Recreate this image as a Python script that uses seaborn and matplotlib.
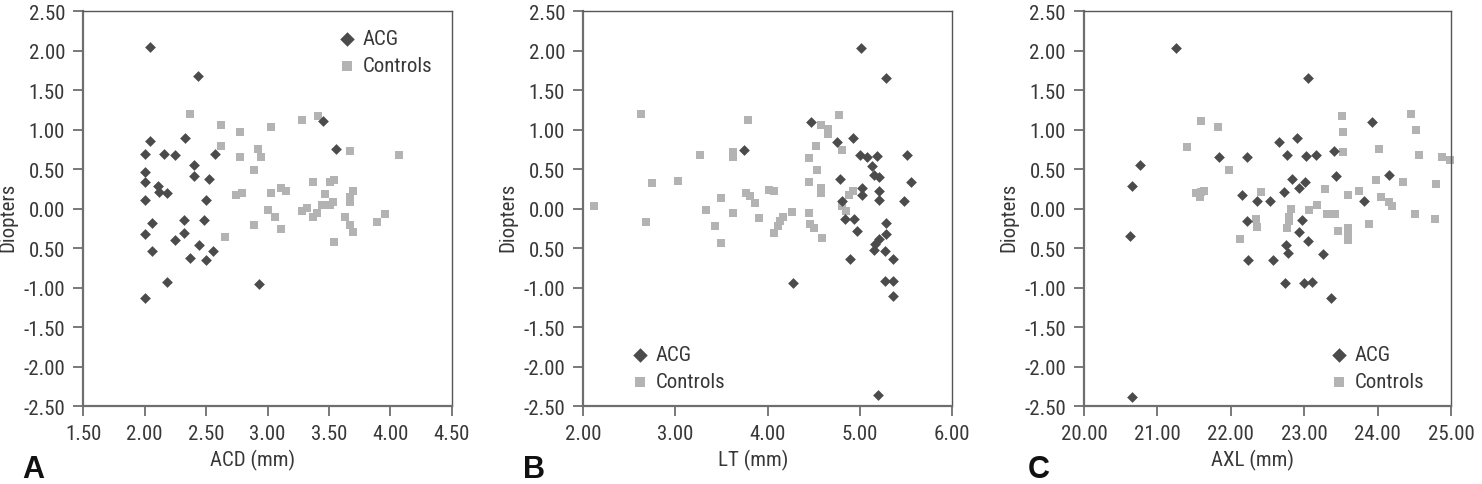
import matplotlib
matplotlib.use("Agg")
import matplotlib.pyplot as plt
import seaborn as sns
import pandas as pd
from matplotlib.ticker import FixedLocator, FixedFormatter

# ---------------- data ----------------
groups = ["ACG", "Controls"]

acd_acg_x = [2.04, 2.43, 2.04, 2.00, 2.16, 2.25, 2.33, 2.40, 2.40, 2.57, 2.52, 2.00, 2.00, 2.11, 2.12, 2.18, 2.00,
             2.50, 2.06, 2.32, 2.48, 2.32, 2.00, 2.25, 2.44, 2.06, 2.37, 2.56, 2.50, 2.18, 2.00, 2.93, 3.45, 3.56]
acd_acg_y = [2.05, 1.68, 0.86, 0.69, 0.69, 0.68, 0.90, 0.55, 0.42, 0.69, 0.38, 0.46, 0.34, 0.29, 0.21, 0.20, 0.11,
             0.11, -0.18, -0.14, -0.14, -0.30, -0.32, -0.40, -0.46, -0.54, -0.62, -0.53, -0.65, -0.93, -1.13, -0.95,
             1.11, 0.76]
acd_ctl_x = [2.37, 2.62, 2.62, 2.65, 2.78, 2.78, 2.74, 2.79, 2.89, 2.92, 2.95, 2.89, 3.00, 3.03, 3.03, 3.06, 3.11,
             3.15, 3.11, 3.28, 3.41, 3.28, 3.32, 3.37, 3.37, 3.40, 3.44, 3.47, 3.51, 3.54, 3.51, 3.53, 3.54, 3.63,
             3.67, 3.67, 3.67, 3.70, 3.67, 3.70, 3.89, 3.96, 4.07]
acd_ctl_y = [1.20, 1.06, 0.79, -0.36, 0.97, 0.65, 0.17, 0.20, 0.49, 0.755, 0.65, -0.20, -0.02, 1.04, 0.20, -0.11,
             0.26, 0.23, -0.25, 1.12, 1.18, -0.03, 0.01, 0.34, -0.10, -0.05, 0.05, 0.19, 0.34, 0.37, 0.05, 0.09,
             -0.42, -0.10, 0.73, 0.15, 0.09, 0.22, -0.21, -0.29, -0.17, -0.06, 0.68]

lt_acg_x = [5.015, 5.29, 4.47, 4.93, 4.75, 3.75, 5.00, 5.08, 5.19, 5.51, 5.14, 5.16, 5.21, 4.79, 5.555, 5.025, 5.025,
            5.21, 5.21, 5.485, 4.81, 4.84, 4.94, 4.97, 5.29, 5.29, 5.21, 5.17, 5.16, 5.28, 5.36, 4.90, 4.28, 5.28,
            5.36, 5.36, 5.20]
lt_acg_y = [2.03, 1.66, 1.10, 0.895, 0.84, 0.74, 0.675, 0.65, 0.67, 0.675, 0.54, 0.43, 0.40, 0.375, 0.345, 0.26,
            0.17, 0.22, 0.11, 0.10, 0.10, -0.13, -0.13, -0.28, -0.18, -0.32, -0.38, -0.45, -0.52, -0.54, -0.64,
            -0.63, -0.94, -0.92, -0.92, -1.11, -2.36]
lt_ctl_x = [2.63, 3.79, 4.78, 4.58, 4.66, 4.66, 4.53, 4.81, 3.62, 3.62, 3.27, 4.45, 4.54, 4.45, 4.58, 4.58, 2.75,
            3.03, 3.77, 3.81, 3.86, 4.02, 4.07, 3.50, 4.89, 4.93, 4.81, 4.85, 2.12, 3.33, 3.62, 4.27, 4.45, 4.17,
            4.14, 4.11, 4.07, 3.91, 2.68, 3.43, 4.46, 4.50, 4.59, 3.50]
lt_ctl_y = [1.20, 1.13, 1.19, 1.06, 1.01, 0.945, 0.79, 0.75, 0.725, 0.655, 0.675, 0.64, 0.485, 0.345, 0.26, 0.20,
            0.325, 0.35, 0.20, 0.16, 0.07, 0.24, 0.22, 0.14, 0.18, 0.22, 0.03, -0.025, 0.03, -0.02, -0.05, -0.04,
            -0.05, -0.105, -0.15, -0.22, -0.30, -0.12, -0.17, -0.22, -0.19, -0.245, -0.37, -0.43]

axl_acg_x = [21.26, 23.05, 23.93, 22.90, 22.66, 23.40, 22.77, 23.02, 23.16, 21.84, 22.22, 20.76, 20.65, 23.44, 24.16,
             22.84, 23.01, 22.93, 22.73, 22.15, 22.36, 22.53, 23.81, 22.22, 22.97, 22.93, 20.62, 22.75, 22.78, 23.05,
             23.25, 22.24, 22.58, 22.74, 23.00, 23.10, 23.37, 20.66]
axl_acg_y = [2.03, 1.65, 1.10, 0.90, 0.84, 0.73, 0.675, 0.67, 0.68, 0.65, 0.65, 0.55, 0.29, 0.41, 0.43, 0.38, 0.345,
             0.26, 0.21, 0.17, 0.10, 0.10, 0.10, -0.15, -0.14, -0.295, -0.34, -0.46, -0.56, -0.41, -0.57, -0.65,
             -0.65, -0.94, -0.94, -0.93, -1.13, -2.38]
axl_ctl_x = [21.60, 21.82, 21.41, 21.97, 21.53, 21.59, 21.64, 21.58, 22.41, 22.35, 22.36, 22.13, 22.82, 22.79, 22.79,
             22.76, 23.07, 23.17, 23.28, 23.31, 23.42, 23.46, 23.59, 23.59, 23.59, 23.52, 23.53, 23.53, 23.59, 23.74,
             23.88, 24.02, 23.98, 24.04, 24.15, 24.19, 24.34, 24.45, 24.52, 24.56, 24.51, 24.79, 24.78, 24.88, 24.98]
axl_ctl_y = [1.11, 1.04, 0.78, 0.485, 0.20, 0.21, 0.22, 0.15, 0.21, -0.13, -0.23, -0.38, 0.00, -0.10, -0.16, -0.24,
             -0.02, 0.05, 0.25, -0.07, -0.06, -0.275, -0.24, -0.33, -0.40, 1.17, 0.975, 0.72, 0.18, 0.22, -0.19,
             0.755, 0.36, 0.15, 0.09, 0.03, 0.345, 1.20, 1.00, 0.68, -0.07, 0.32, -0.13, 0.66, 0.62]

y_ticks = [2.5, 2.0, 1.5, 1.0, 0.5, 0.0, -0.5, -1.0, -1.5, -2.0, -2.5]
y_tick_labels = ["2.50", "2.00", "1.50", "1.00", "0.50", "0.00", "0.50", "-1.00", "-1.50", "-2.00", "-2.50"]

acd_ticks = [1.5, 2.0, 2.5, 3.0, 3.5, 4.0, 4.5]
acd_tick_labels = ["1.50", "2.00", "2.50", "3.00", "3.50", "4.00", "4.50"]
lt_ticks = [2.0, 3.0, 4.0, 5.0, 6.0]
lt_tick_labels = ["2.00", "3.00", "4.00", "5.00", "6.00"]
axl_ticks = [20.0, 21.0, 22.0, 23.0, 24.0, 25.0]
axl_tick_labels = ["20.00", "21.00", "22.00", "23.00", "24.00", "25.00"]

x_labels = ["ACD (mm)", "LT (mm)", "AXL (mm)"]
y_label = "Diopters"
panel_letters = ["A", "B", "C"]

# ---------------- style ----------------
sns.set_theme(style="white")
plt.rcParams["font.family"] = ["Roboto Condensed", "DejaVu Sans"]

TXT = "#383838"
SPINE = "#6e6e6e"
palette = {"ACG": "#4b4b4b", "Controls": "#b3b3b3"}
markers = {"ACG": "D", "Controls": "s"}
sizes_map = {"ACG": 30, "Controls": 32}

fig = plt.figure(figsize=(14.82, 4.85), dpi=100)

W = 1482.0
H = 485.0
bottom = 1 - 407.3 / H
height = 395.0 / H
lefts = [83.3, 583.3, 1084.0]
widths = [368.4, 368.4, 367.0]

panels = [
    (acd_acg_x, acd_acg_y, acd_ctl_x, acd_ctl_y, (1.5, 4.5), acd_ticks, acd_tick_labels),
    (lt_acg_x, lt_acg_y, lt_ctl_x, lt_ctl_y, (2.0, 6.0), lt_ticks, lt_tick_labels),
    (axl_acg_x, axl_acg_y, axl_ctl_x, axl_ctl_y, (20.0, 25.0), axl_ticks, axl_tick_labels),
]
legend_anchor = [(0.688, 0.955), (0.126, 0.155), (0.666, 0.155)]
letter_x = [22, 523, 1028]

for i, (ax_, ay_, cx_, cy_, xlim, xt, xtl) in enumerate(panels):
    ax = fig.add_axes([lefts[i] / W, bottom, widths[i] / W, height])
    df = pd.DataFrame({
        "x": list(ax_) + list(cx_),
        "y": list(ay_) + list(cy_),
        "group": ["ACG"] * len(ax_) + ["Controls"] * len(cx_),
    })
    for g in groups:
        sub = df[df["group"] == g]
        sns.scatterplot(data=sub, x="x", y="y", ax=ax, color=palette[g], marker=markers[g],
                        s=sizes_map[g], linewidth=0, label=g, clip_on=False, zorder=3 if g == "ACG" else 2)
    ax.set_xlim(*xlim)
    ax.set_ylim(-2.5, 2.5)
    ax.xaxis.set_major_locator(FixedLocator(xt))
    ax.xaxis.set_major_formatter(FixedFormatter(xtl))
    ax.yaxis.set_major_locator(FixedLocator(y_ticks))
    ax.yaxis.set_major_formatter(FixedFormatter(y_tick_labels))
    ax.tick_params(axis="both", which="major", direction="out", length=7, width=1.3,
                   color=SPINE, labelsize=15, labelcolor=TXT, pad=6,
                   bottom=True, left=True, top=False, right=False)
    for s in ["left", "bottom"]:
        ax.spines[s].set_color(SPINE)
        ax.spines[s].set_linewidth(1.6)
    for s in ["top", "right"]:
        ax.spines[s].set_color("#555555")
        ax.spines[s].set_linewidth(1.0)
    ax.set_xlabel(x_labels[i], fontsize=15, color=TXT)
    ax.set_ylabel(y_label, fontsize=15, color=TXT)
    ax.xaxis.set_label_coords(0.46, -0.108)
    ax.yaxis.set_label_coords(-0.178, 0.48)
    leg = ax.legend(loc="upper left", bbox_to_anchor=legend_anchor[i], frameon=False, fontsize=15,
                    handlelength=1.0, handletextpad=0.25, borderpad=0, borderaxespad=0,
                    labelspacing=0.4, markerscale=1.35)
    for t in leg.get_texts():
        t.set_color(TXT)
    fig.text(letter_x[i] / W, 1 - 478.0 / H, panel_letters[i], fontsize=22, fontweight="bold",
             family=["Liberation Sans", "DejaVu Sans"], color="#111111", ha="left", va="baseline")

fig.savefig("out.png", dpi=100)
